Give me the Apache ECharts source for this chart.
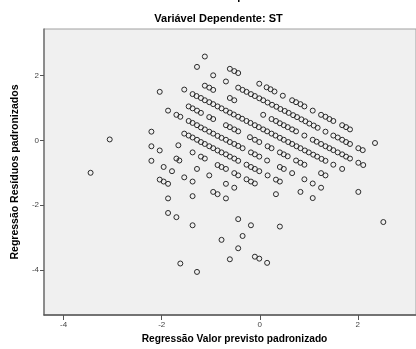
<!DOCTYPE html>
<html><head><meta charset="utf-8">
<script src="https://cdn.jsdelivr.net/npm/echarts@6/dist/echarts.min.js"></script>
<style>html,body{margin:0;padding:0;background:#fff}#c{width:416px;height:349px}</style>
</head><body><div id="c"></div>
<script>
const titleTop = 'Gráfico de dispersão';
const titleMain = 'Variável Dependente: ST';
const xName = 'Regressão Valor previsto padronizado';
const yName = 'Regressão Resíduos padronizados';
const xTicks = [-4, -2, 0, 2];
const yTicks = [-4, -2, 0, 2];

// points, grouped by diagonal band
const bandA = [[-1.12,2.59],[-0.61,2.21],[-0.52,2.14],[-0.44,2.08],[-0.01,1.75],[0.14,1.64],[0.22,1.58],[0.30,1.51],[0.47,1.38],[0.66,1.24],[0.74,1.18],[0.83,1.12],[0.91,1.05],[1.08,0.92],[1.25,0.79],[1.34,0.73],[1.42,0.66],[1.50,0.60],[1.68,0.47],[1.76,0.41],[1.84,0.34],[2.35,-0.08]];
const bandB = [[-1.28,2.27],[-0.95,2.01],[-0.69,1.82],[-0.44,1.63],[-0.35,1.56],[-0.27,1.50],[-0.18,1.43],[-0.10,1.37],[-0.01,1.30],[0.07,1.24],[0.16,1.17],[0.25,1.10],[0.34,1.04],[0.42,0.97],[0.51,0.91],[0.59,0.85],[0.68,0.78],[0.76,0.72],[0.85,0.65],[0.93,0.59],[1.01,0.52],[1.10,0.46],[1.18,0.39],[1.34,0.27],[1.50,0.15],[1.59,0.09],[1.68,0.02],[1.76,-0.05],[1.84,-0.11],[2.01,-0.24],[2.10,-0.30]];
const bandC = [[-1.12,1.69],[-1.03,1.63],[-0.95,1.56],[-0.61,1.31],[-0.52,1.24],[0.07,0.79],[0.24,0.66],[0.33,0.60],[0.41,0.53],[0.49,0.47],[0.57,0.41],[0.66,0.34],[0.74,0.28],[0.91,0.15],[1.08,0.02],[1.16,-0.04],[1.25,-0.11],[1.34,-0.18],[1.42,-0.24],[1.50,-0.30],[1.59,-0.37],[1.68,-0.43],[1.76,-0.50],[1.84,-0.56],[2.01,-0.69],[2.11,-0.76]];
const bandD = [[-1.54,1.57],[-1.37,1.43],[-1.29,1.37],[-1.20,1.31],[-1.12,1.24],[-1.03,1.18],[-0.95,1.12],[-0.86,1.05],[-0.78,0.99],[-0.69,0.92],[-0.61,0.86],[-0.53,0.80],[-0.44,0.73],[-0.36,0.67],[-0.27,0.60],[-0.19,0.54],[-0.10,0.47],[-0.02,0.41],[0.07,0.34],[0.15,0.28],[0.24,0.21],[0.32,0.15],[0.41,0.08],[0.49,0.02],[0.58,-0.05],[0.66,-0.11],[0.75,-0.18],[0.83,-0.24],[0.92,-0.31],[1.00,-0.37],[1.09,-0.44],[1.17,-0.50],[1.26,-0.57],[1.34,-0.63],[1.50,-0.75],[1.68,-0.88]];
const bandE = [[-2.04,1.50],[-1.45,1.05],[-1.37,0.99],[-1.28,0.92],[-1.20,0.85],[-1.03,0.72],[-0.95,0.66],[-0.69,0.47],[-0.61,0.41],[-0.52,0.34],[-0.44,0.28],[-0.20,0.10],[-0.10,0.02],[-0.01,-0.05],[0.16,-0.18],[0.24,-0.24],[0.41,-0.37],[0.49,-0.43],[0.57,-0.49],[0.74,-0.62],[0.83,-0.69],[0.91,-0.75],[1.25,-1.01],[1.34,-1.08],[2.01,-1.59]];
const bandF = [[-1.87,0.92],[-1.70,0.79],[-1.62,0.73],[-1.45,0.60],[-1.37,0.54],[-1.28,0.47],[-1.20,0.40],[-1.12,0.34],[-1.03,0.27],[-0.95,0.21],[-0.86,0.14],[-0.78,0.08],[-0.69,0.02],[-0.61,-0.05],[-0.52,-0.11],[-0.44,-0.17],[-0.35,-0.24],[-0.18,-0.37],[-0.10,-0.43],[-0.01,-0.50],[0.15,-0.62],[0.41,-0.82],[0.49,-0.88],[0.66,-1.01],[0.91,-1.20],[1.08,-1.33],[1.25,-1.46],[2.52,-2.52]];
const bandG = [[-1.54,0.21],[-1.45,0.15],[-1.37,0.09],[-1.28,0.02],[-1.20,-0.05],[-1.12,-0.11],[-1.03,-0.18],[-0.95,-0.24],[-0.86,-0.31],[-0.78,-0.37],[-0.69,-0.43],[-0.61,-0.50],[-0.52,-0.56],[-0.44,-0.63],[-0.27,-0.75],[-0.18,-0.82],[-0.10,-0.88],[-0.01,-0.95],[0.16,-1.08],[0.33,-1.21],[0.41,-1.27],[0.83,-1.59],[1.08,-1.78]];
const bandH = [[-2.21,0.27],[-1.66,-0.15],[-1.37,-0.37],[-1.20,-0.50],[-1.12,-0.56],[-0.86,-0.76],[-0.78,-0.82],[-0.69,-0.88],[-0.52,-1.01],[-0.44,-1.08],[-0.27,-1.20],[-0.18,-1.27],[-0.10,-1.33],[0.33,-1.66]];
const bandI = [[-2.21,-0.18],[-2.04,-0.31],[-1.70,-0.56],[-1.64,-0.62],[-1.28,-0.88],[-1.03,-1.08],[-0.69,-1.34],[-0.52,-1.46]];
const bandJ = [[-3.06,0.03],[-2.21,-0.63],[-1.96,-0.82],[-1.79,-0.95],[-1.54,-1.14],[-1.37,-1.27],[-0.95,-1.59],[-0.86,-1.66],[-0.69,-1.79],[0.41,-2.66]];
const bandK = [[-2.04,-1.21],[-1.96,-1.27],[-1.87,-1.34],[-1.37,-1.72],[-0.44,-2.43],[-0.18,-2.62]];
const bandL = [[-1.87,-1.79],[-0.35,-2.95]];
const bandM = [[-3.45,-1.00],[-1.87,-2.24],[-1.70,-2.37],[-1.37,-2.62],[-0.78,-3.07],[-0.44,-3.33],[-0.10,-3.59],[-0.01,-3.65],[0.15,-3.78]];
const bandN = [[-0.61,-3.67]];
const bandP = [[-1.62,-3.80],[-1.28,-4.06]];

const points = [].concat(bandA, bandB, bandC, bandD, bandE, bandF, bandG, bandH, bandI, bandJ, bandK, bandL, bandM, bandN, bandP);

const font = 'Arial, "Liberation Sans", sans-serif';
const chart = echarts.init(document.getElementById('c'), null, {renderer: 'canvas'});
chart.setOption({
  animation: false,
  backgroundColor: '#ffffff',
  graphic: [
    {type: 'text', x: 218.5, y: -3, silent: true,
     style: {text: titleTop, align: 'center', verticalAlign: 'middle', fill: '#000',
             fontSize: 11, fontWeight: 'bold', fontFamily: font}},
    {type: 'text', x: 218.5, y: 19, silent: true,
     style: {text: titleMain, align: 'center', verticalAlign: 'middle', fill: '#000',
             fontSize: 11, fontWeight: 'bold', fontFamily: font}}
  ],
  grid: {left: 44, top: 29, width: 374, height: 286, show: true,
         backgroundColor: '#f0f0f0', borderColor: '#a0a0a0', borderWidth: 1},
  xAxis: {
    type: 'value', min: -4.4, max: 3.186,
    name: xName, nameLocation: 'middle', nameGap: 17,
    nameTextStyle: {fontSize: 10.2, fontWeight: 'bold', color: '#000', fontFamily: font, padding: [0, 0, 0, 9]},
    axisLine: {show: true, onZero: false, lineStyle: {color: '#555', width: 1.5}},
    axisTick: {show: true, length: 5, customValues: xTicks, lineStyle: {color: '#555'}},
    axisLabel: {customValues: xTicks, fontSize: 8, color: '#444', margin: 6, fontFamily: font},
    splitLine: {show: false}
  },
  yAxis: {
    type: 'value', min: -5.39, max: 3.44,
    name: yName, nameLocation: 'middle', nameGap: 14,
    nameTextStyle: {fontSize: 10.5, fontWeight: 'bold', color: '#000', fontFamily: font},
    axisLine: {show: true, onZero: false, lineStyle: {color: '#777', width: 1.5}},
    axisTick: {show: true, length: 4, customValues: yTicks, lineStyle: {color: '#555'}},
    axisLabel: {customValues: yTicks, fontSize: 8, color: '#444', margin: 5, fontFamily: font},
    splitLine: {show: false}
  },
  series: [{
    type: 'scatter', data: points, symbol: 'circle', symbolSize: 5,
    itemStyle: {color: 'rgba(0,0,0,0)', borderColor: '#2a2a2a', borderWidth: 1, opacity: 1},
    emphasis: {disabled: true}, silent: true
  }]
});
</script></body></html>
